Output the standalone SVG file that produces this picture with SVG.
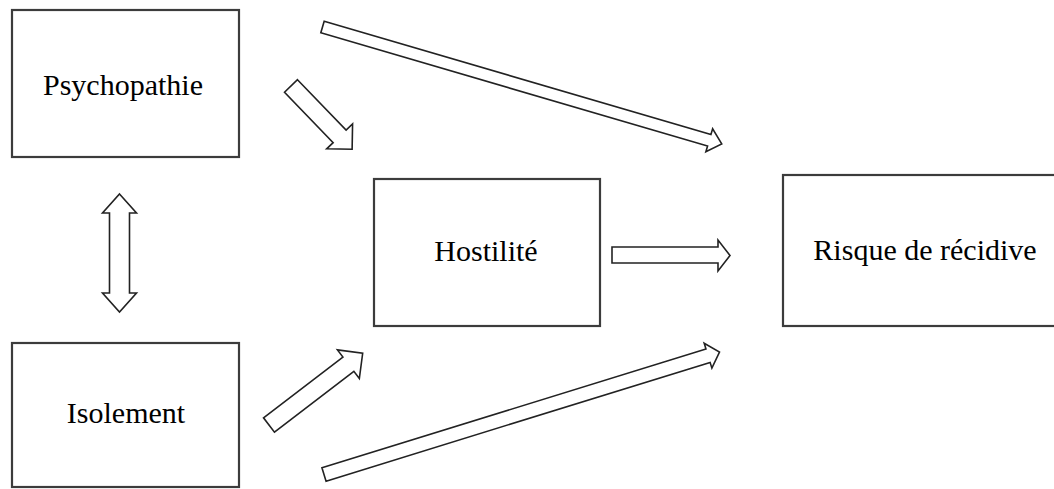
<svg xmlns="http://www.w3.org/2000/svg" width="1054" height="489" viewBox="0 0 1054 489">
  <style>
    .box { fill: #ffffff; stroke: #3c3c3c; stroke-width: 2.2; }
    .label { font-family: "Liberation Serif", "Times New Roman", serif; font-size: 30px; fill: #000000; text-anchor: middle; }
    .arrow { fill: #ffffff; stroke: #222222; stroke-width: 1.6; stroke-linejoin: miter; }
  </style>
  <rect width="1054" height="489" fill="#ffffff"/>

  <g id="psychopathie">
    <rect class="box" x="12" y="10" width="227" height="147"/>
    <text class="label" x="123" y="95">Psychopathie</text>
  </g>

  <g id="isolement">
    <rect class="box" x="12" y="343" width="227" height="144"/>
    <text class="label" x="126" y="423">Isolement</text>
  </g>

  <g id="hostilite">
    <rect class="box" x="374" y="179" width="226" height="147"/>
    <text class="label" x="486" y="261">Hostilité</text>
  </g>

  <g id="risque">
    <rect class="box" x="783" y="175" width="284" height="151"/>
    <text class="label" x="925" y="260">Risque de récidive</text>
  </g>

  <g id="connectors">
    <!-- Psychopathie to Hostilité -->
    <polygon class="arrow" transform="translate(291,86) rotate(46)" points="0,-9 70,-9 70,-18 88,0 70,18 70,9 0,9"/>
    <!-- Psychopathie to Risque de récidive -->
    <polygon class="arrow" transform="translate(322.5,27) rotate(16.32)" points="0,-6 403,-6 403,-12 416,0 403,12 403,6 0,6"/>
    <!-- Psychopathie and Isolement, both ways -->
    <polygon class="arrow" points="119.5,194 136.5,213 129.5,213 129.5,293 136.5,293 119.5,312 102.5,293 109.5,293 109.5,213 102.5,213"/>
    <!-- Hostilité to Risque de récidive -->
    <polygon class="arrow" points="612,247 718,247 718,240 730,255.5 718,271 718,263 612,263"/>
    <!-- Isolement to Hostilité -->
    <polygon class="arrow" transform="translate(269,425) rotate(-37.45)" points="0,-9 100,-9 100,-18 118,0 100,18 100,9 0,9"/>
    <!-- Isolement to Risque de récidive -->
    <polygon class="arrow" transform="translate(324,474.5) rotate(-17.19)" points="0,-7 402,-7 402,-13 414,0 402,13 402,7 0,7"/>
  </g>
</svg>
